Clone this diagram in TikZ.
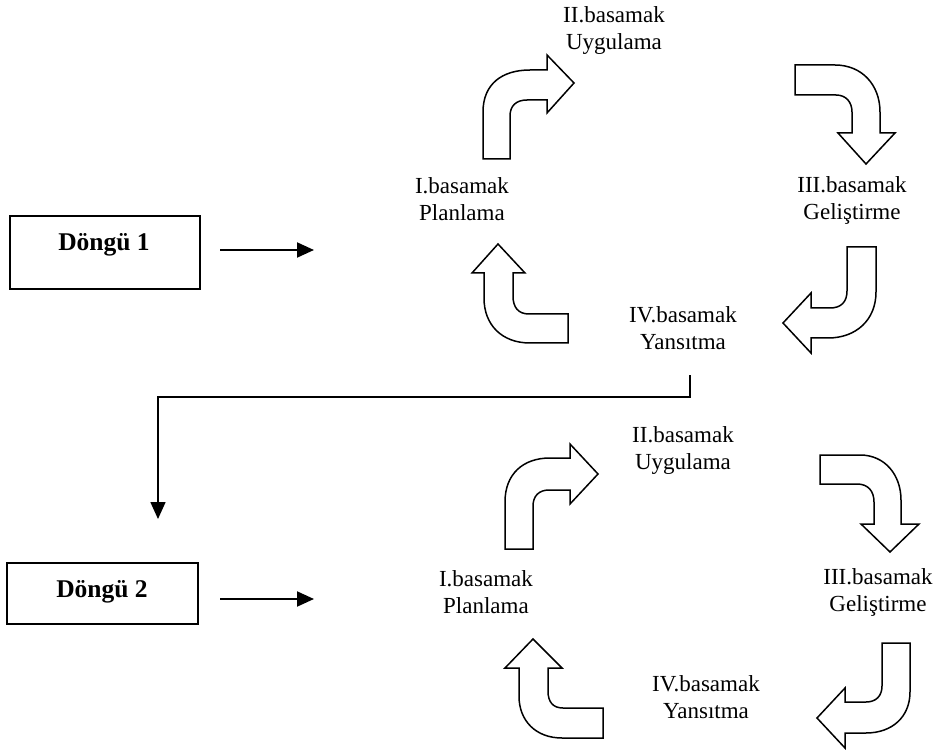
\documentclass[tikz,border=0pt]{standalone}
\usepackage{fontspec}
\setmainfont{Liberation Serif}
\usetikzlibrary{arrows.meta}
\tikzset{
  lbl/.style={align=center, font=\fontsize{23}{27}\selectfont, inner sep=0pt},
  boxlbl/.style={font=\fontsize{25.5}{30}\selectfont\bfseries, inner sep=0pt},
  frame/.style={draw, line width=1.6pt},
  bentarrow/.style={draw, line width=1.5pt, fill=white, line join=miter},
  flow/.style={line width=2pt, -{Triangle[length=17pt,width=15pt]}}
}
\begin{document}
\begin{tikzpicture}[x=1pt,y=-1pt]
\useasboundingbox (0,0) rectangle (946,754);

% ---------- first cycle ----------
\draw[frame] (10,216) rectangle (200,289);
\node[boxlbl] (d1) at (104,245) {Döngü 1};
\coordinate (d1s) at (220,250);
\coordinate (d1e) at (314,250);
\draw[flow] (d1s) -- (d1e);

\node[lbl] (p1) at (462,199) {I.basamak\\Planlama};
\node[lbl] (u1) at (614,31) {II.basamak\\Uygulama};
\node[lbl] (g1) at (852,200) {III.basamak\\Geliştirme};
\node[lbl] (y1) at (683,328) {IV.basamak\\Yansıtma};

% up then right
\path[bentarrow] (483,159) -- (483,112) .. controls (483,84) and (502,70) .. (530,70)
  -- (547,70) -- (547,55) -- (574,83) -- (547,113) -- (547,100) -- (527,100)
  .. controls (516,100) and (510,106) .. (510,116) -- (510,159) -- cycle;
% right then down
\path[bentarrow] (795,65) -- (835,65) .. controls (862,65) and (880,85) .. (880,112)
  -- (880,133) -- (895,133) -- (866,164) -- (838,133) -- (852,133) -- (852,112)
  .. controls (852,102) and (846,95) .. (836,95) -- (795,95) -- cycle;
% down then left
\path[bentarrow] (847,247) -- (876,247) -- (876,292) .. controls (876,320) and (856,338) .. (828,338)
  -- (811,338) -- (811,353) -- (783,323) -- (811,293) -- (811,308) -- (830,308)
  .. controls (841,308) and (847,302) .. (847,291) -- cycle;
% left then up
\path[bentarrow] (568,314) -- (568,343) -- (530,343) .. controls (502,343) and (484,325) .. (484,298)
  -- (484,273) -- (472,273) -- (498,244) -- (525,273) -- (513,273) -- (513,296)
  .. controls (513,307) and (518,314) .. (529,314) -- cycle;

% ---------- link to the second cycle ----------
\coordinate (ls) at (690,375);
\coordinate (lb) at (158,397);
\coordinate (le) at (158,519);
\draw[flow, line width=1.6pt] (ls) |- (lb) -- (le);

% ---------- second cycle ----------
\draw[frame] (7,563) rectangle (198,624);
\node[boxlbl] (d2) at (102,592) {Döngü 2};
\coordinate (d2s) at (220,599);
\coordinate (d2e) at (314,599);
\draw[flow] (d2s) -- (d2e);

\node[lbl] (p2) at (486,592) {I.basamak\\Planlama};
\node[lbl] (u2) at (683,451) {II.basamak\\Uygulama};
\node[lbl] (g2) at (878,592) {III.basamak\\Geliştirme};
\node[lbl] (y2) at (706,697) {IV.basamak\\Yansıtma};

% up then right
\path[bentarrow] (505,549) -- (505,502) .. controls (505,474) and (523,458) .. (550,458)
  -- (570,458) -- (570,444) -- (598,474) -- (570,504) -- (570,490) -- (549,490)
  .. controls (539,490) and (533,496) .. (533,506) -- (533,549) -- cycle;
% right then down
\path[bentarrow] (820,455) -- (860,455) .. controls (885,455) and (901,475) .. (901,500)
  -- (901,524) -- (919,524) -- (890,552) -- (861,524) -- (874,524) -- (874,502)
  .. controls (874,491) and (868,484) .. (857,484) -- (820,484) -- cycle;
% down then left
\path[bentarrow] (882,643) -- (910,643) -- (910,692) .. controls (910,717) and (892,733) .. (866,733)
  -- (845,733) -- (845,748) -- (817,718) -- (845,688) -- (845,702) -- (866,702)
  .. controls (876,702) and (882,696) .. (882,686) -- cycle;
% left then up
\path[bentarrow] (603,708) -- (603,738) -- (562,738) .. controls (536,738) and (519,721) .. (519,696)
  -- (519,668) -- (505,668) -- (533,639) -- (562,668) -- (548,668) -- (548,691)
  .. controls (548,702) and (553,708) .. (563,708) -- cycle;
\end{tikzpicture}
\end{document}
